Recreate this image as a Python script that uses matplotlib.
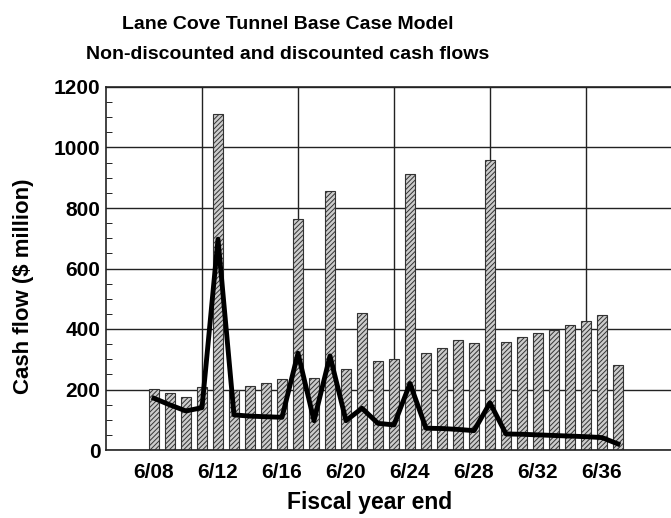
import numpy as np
import matplotlib
matplotlib.use("Agg")
import matplotlib.pyplot as plt
from matplotlib.ticker import MultipleLocator

plt.rcParams['font.family'] = ['Liberation Sans', 'DejaVu Sans']
plt.rcParams['hatch.color'] = '#6e6e6e'
plt.rcParams['hatch.linewidth'] = 0.7

# fiscal years ending June 2008 .. June 2037
years = list(range(2008, 2038))
# non-discounted cash flow ($ million)
nominal = [203, 190, 174, 209, 1110, 198, 211, 221, 235, 763,
           239, 857, 269, 454, 294, 302, 912, 322, 338, 364,
           355, 959, 358, 375, 388, 397, 413, 425, 446, 281]
# discounted cash flow ($ million)
discounted = [171, 149, 129, 140, 697, 116, 112, 110, 108, 320,
              97, 311, 97, 138, 88, 83, 220, 72, 71, 68,
              64, 156, 53, 52, 50, 48, 46, 44, 41, 20]
tick_labels = ["6/08", "6/12", "6/16", "6/20", "6/24", "6/28", "6/32", "6/36"]

x = np.arange(len(years))

fig = plt.figure(figsize=(6.71, 5.18), dpi=100)
ax = fig.add_axes([106 / 671, 68 / 518, 576 / 671, 363 / 518])

ax.bar(x, nominal, width=0.6, color='#cccccc', edgecolor='#333333',
       linewidth=0.8, hatch='///////', zorder=2)
ax.plot(x, discounted, color='black', linewidth=3.5, zorder=3)

# grid: horizontal every 200, vertical every 6 years
ax.set_ylim(0, 1200)
ax.set_xlim(-3, 33)
ax.yaxis.set_major_locator(MultipleLocator(200))
ax.yaxis.set_minor_locator(MultipleLocator(50))
ax.grid(axis='y', color='#222222', linewidth=1.0, zorder=1)
for gx in [3, 9, 15, 21, 27]:
    ax.axvline(gx, color='#222222', linewidth=1.0, zorder=1)

ax.set_xticks(x[::4])
ax.set_xticklabels(tick_labels)
ax.tick_params(axis='x', length=0, labelsize=15, pad=9)
ax.tick_params(axis='y', which='major', direction='in', length=0, labelsize=15, pad=4)
ax.tick_params(axis='y', which='minor', direction='in', length=4, right=False)
for lab in ax.get_xticklabels() + ax.get_yticklabels():
    lab.set_fontweight('bold')

for sp in ax.spines.values():
    sp.set_linewidth(1.2)
    sp.set_color('#222222')

fig.text(370 / 671, 9 / 518, "Fiscal year end", ha='center', va='baseline',
         fontsize=16.5, fontweight='bold')
fig.text(24 / 671, 1 - 286 / 518, "Cash flow ($ million)", ha='center', va='center',
         rotation=90, fontsize=16, fontweight='bold')
fig.text(288 / 671, 1 - 29 / 518, "Lane Cove Tunnel Base Case Model", ha='center',
         va='baseline', fontsize=14, fontweight='bold')
fig.text(288 / 671, 1 - 59 / 518, "Non-discounted and discounted cash flows", ha='center',
         va='baseline', fontsize=14, fontweight='bold')

fig.savefig("out.png", dpi=100)
